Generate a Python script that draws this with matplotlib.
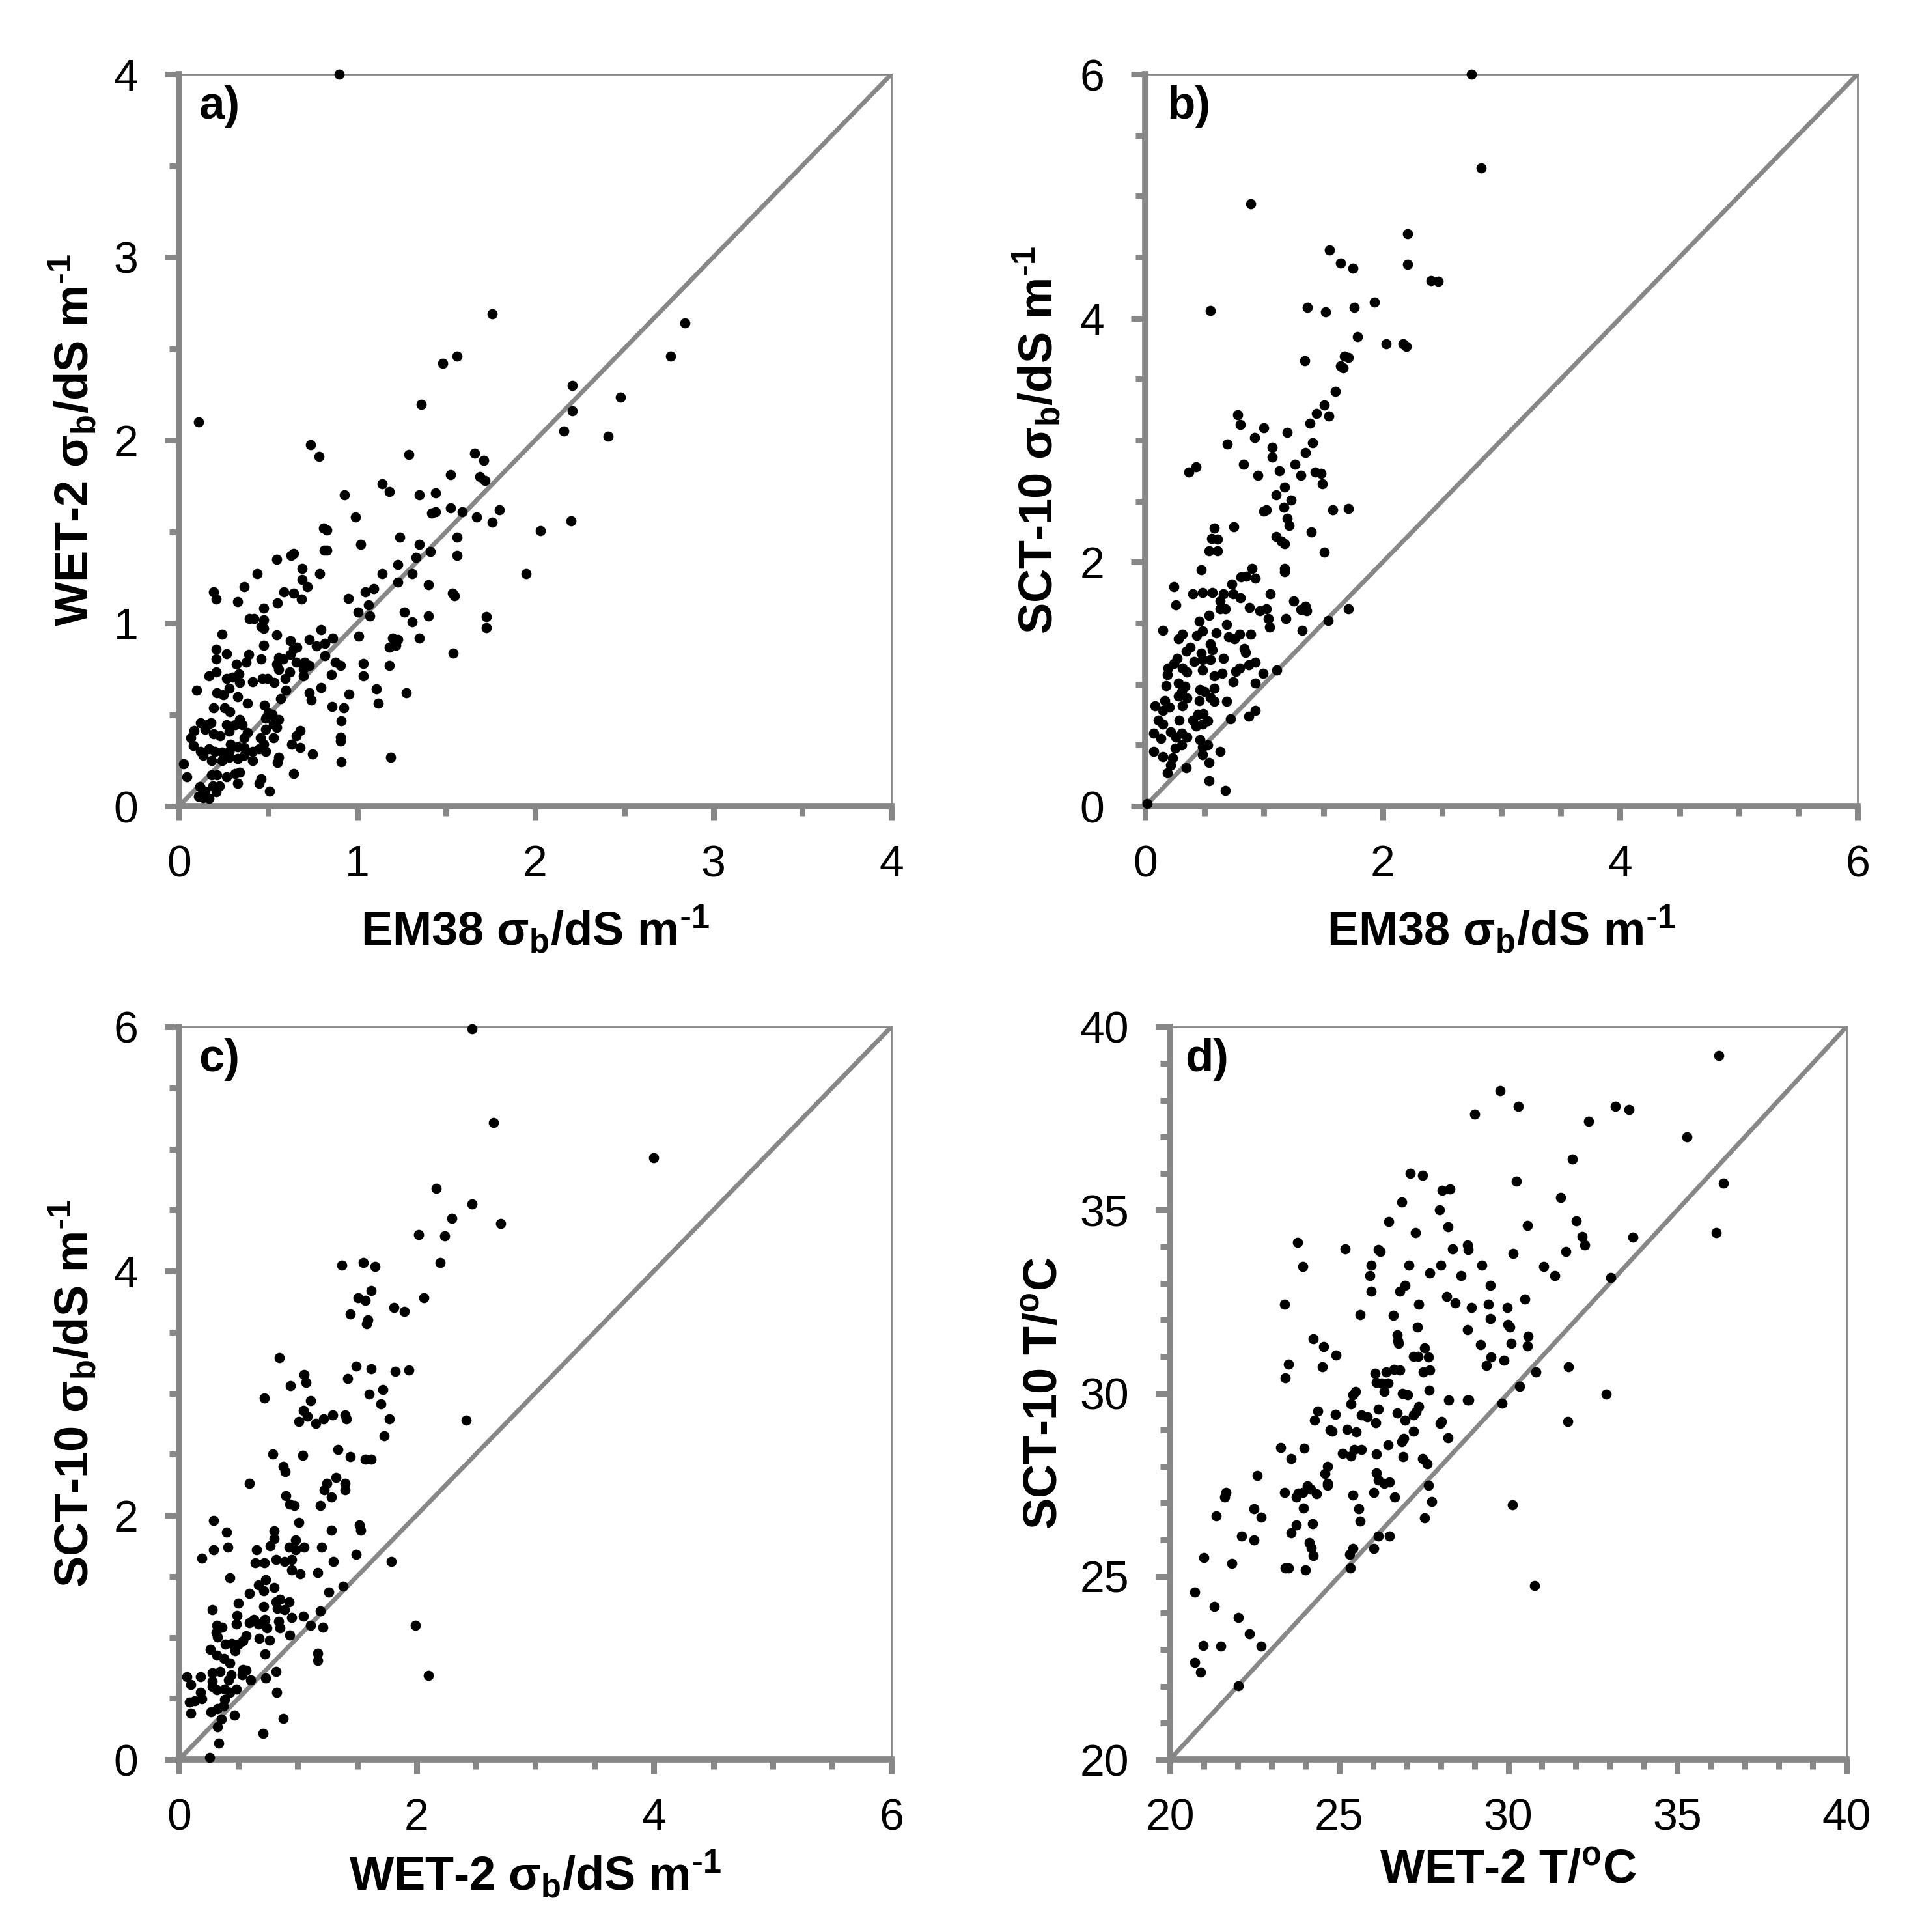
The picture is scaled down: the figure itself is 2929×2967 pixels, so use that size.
import matplotlib
matplotlib.use("Agg")
import matplotlib.pyplot as plt
from matplotlib.ticker import MultipleLocator
from matplotlib.mathtext import MathTextParser
import numpy as np

plt.rcParams['font.family'] = ['Liberation Sans', 'DejaVu Sans']
plt.rcParams['mathtext.default'] = 'regular'

# ---------------- data ----------------
# Panel a: EM38 (x) vs WET-2 (y), dS/m
a_pts = [
    (1.02,1.43),(1.24,1.47),(1.35,1.43),(1.41,1.39),(0.63,1.37),(0.645,1.38),(0.815,1.40),(0.83,1.40),
    (0.55,1.35),(0.69,1.30),(0.44,1.27),(0.79,1.27),(0.69,1.24),(0.72,1.20),(1.33,1.36),(1.23,1.32),
    (1.14,1.27),(1.31,1.27),(1.23,1.225),(1.40,1.21),(0.195,1.17),(0.21,1.13),(0.365,1.20),(0.33,1.117),
    (0.59,1.17),(0.645,1.165),(0.687,1.13),(0.553,1.11),(0.475,1.083),(0.95,1.136),(1.046,1.17),(1.095,1.19),
    (1.064,1.10),(1.004,1.06),(1.07,1.04),(0.395,1.024),(0.42,1.024),(0.475,1.018),(0.462,0.982),(0.475,0.97),
    (1.265,1.06),(1.31,1.006),(1.40,1.04),(0.243,0.94),(0.547,0.935),(0.797,0.964),(1.01,0.93),(1.35,0.917),
    (1.198,0.917),(1.229,0.91),(1.18,0.87),(1.216,0.88),(0.627,0.905),(0.663,0.87),(0.645,0.86),(0.73,0.91),
    (0.77,0.876),(0.82,0.89),(0.864,0.917),(0.475,0.88),(0.207,0.858),(0.207,0.805),(0.268,0.834),(0.39,0.828),
    (0.377,0.787),(0.462,0.805),(0.56,0.81),(0.547,0.775),(0.584,0.805),(0.56,0.746),(0.627,0.828),(0.657,0.787),
    (0.706,0.787),(0.73,0.77),(0.70,0.75),(0.82,0.822),(0.876,0.787),(0.906,0.77),(1.034,0.781),(1.034,0.71),
    (1.18,0.77),(0.322,0.775),(0.207,0.734),(0.17,0.71),(0.335,0.722),(0.30,0.704),(0.268,0.698),(0.34,0.675),
    (0.414,0.68),(0.468,0.698),(0.499,0.698),(0.535,0.675),(0.596,0.698),(0.62,0.734),(0.70,0.71),(0.857,0.718),
    (0.097,0.633),(0.213,0.62),(0.25,0.61),(0.28,0.645),(0.33,0.598),(0.383,0.562),(0.48,0.55),(0.60,0.633),
    (0.572,0.586),(0.73,0.62),(0.742,0.58),(0.797,0.648),(0.955,0.612),(1.107,0.639),(1.12,0.562),(1.277,0.62),
    (0.858,0.544),(0.925,0.538),(0.912,0.467),(0.906,0.379),(0.906,0.355),(0.912,0.243),(1.19,0.266),(0.195,0.538),
    (0.255,0.538),(0.286,0.515),(0.50,0.509),(0.523,0.503),(0.487,0.479),(0.56,0.473),(0.53,0.45),(0.487,0.42),
    (0.547,0.43),(0.34,0.473),(0.316,0.444),(0.353,0.444),(0.122,0.456),(0.164,0.45),(0.18,0.456),(0.085,0.414),
    (0.067,0.373),(0.079,0.331),(0.146,0.42),(0.195,0.396),(0.23,0.385),(0.28,0.408),(0.268,0.444),(0.383,0.403),
    (0.365,0.373),(0.456,0.373),(0.529,0.373),(0.68,0.414),(0.657,0.385),(0.633,0.337),(0.68,0.32),(0.748,0.284),
    (0.56,0.266),(0.553,0.237),(0.645,0.178),(0.29,0.337),(0.33,0.325),(0.365,0.32),(0.17,0.314),(0.2,0.30),
    (0.24,0.296),(0.28,0.30),(0.122,0.30),(0.134,0.277),(0.414,0.30),(0.45,0.314),(0.487,0.30),(0.475,0.337),
    (0.182,0.249),(0.243,0.249),(0.28,0.266),(0.33,0.26),(0.365,0.278),(0.414,0.249),(0.024,0.231),(0.043,0.16),
    (0.182,0.172),(0.213,0.172),(0.268,0.16),(0.316,0.178),(0.33,0.124),(0.34,0.184),(0.462,0.148),(0.45,0.124),
    (0.51,0.083),(0.116,0.107),(0.146,0.083),(0.19,0.112),(0.225,0.112),(0.207,0.077),(0.11,0.053),(0.134,0.047),
    (0.17,0.041),
    (0.90,4.0),(0.11,2.10),(1.76,2.69),(2.84,2.64),(2.76,2.46),(1.48,2.42),(1.56,2.46),(1.36,2.195),
    (2.21,2.30),(2.48,2.236),(2.21,2.16),(2.16,2.05),(2.41,2.02),(0.74,1.976),(0.785,1.91),(1.29,1.92),
    (1.66,1.93),(1.71,1.89),(1.525,1.81),(1.69,1.80),(1.72,1.78),(1.14,1.76),(1.18,1.72),(0.93,1.70),
    (1.35,1.70),(1.44,1.71),(0.99,1.58),(1.42,1.60),(1.44,1.61),(1.525,1.63),(1.59,1.61),(1.67,1.58),
    (1.80,1.62),(1.76,1.55),(2.03,1.505),(2.20,1.56),(1.95,1.27),(1.56,1.47),(1.56,1.37),(1.535,1.165),
    (1.545,1.15),(1.725,1.034),(1.725,0.976),(1.54,0.838),(0.81,1.52),(0.83,1.51),
]

# Panel b: EM38 (x) vs SCT-10 (y), dS/m
b_pts = [
    (2.75,6.0),(2.83,5.23),(0.89,4.94),(2.21,4.69),(1.55,4.56),(1.645,4.45),(1.75,4.41),(2.21,4.44),
    (2.41,4.31),(2.47,4.30),(0.547,4.06),(1.364,4.087),(1.52,4.05),(1.76,4.087),(1.93,4.13),(1.79,3.85),
    (2.03,3.79),(2.17,3.79),(2.20,3.77),(1.344,3.65),(1.68,3.69),(1.71,3.68),(1.645,3.61),(1.67,3.59),
    (1.60,3.40),(1.51,3.29),(1.44,3.22),(1.545,3.20),(1.39,3.14),(0.78,3.21),(0.80,3.13),(1.00,3.10),
    (0.92,3.02),(1.196,3.065),(0.69,2.97),(1.41,2.98),(1.07,2.94),(1.07,2.86),(1.35,2.90),(0.83,2.80),
    (1.26,2.80),(0.37,2.74),(0.43,2.78),(0.95,2.71),(1.13,2.75),(1.31,2.71),(1.43,2.74),(1.48,2.73),
    (1.49,2.64),(1.175,2.615),(1.10,2.55),(1.23,2.51),(1.17,2.45),(1.00,2.42),(1.02,2.43),(1.58,2.43),
    (1.71,2.44),(1.196,2.36),(1.21,2.30),(0.746,2.29),(0.58,2.28),(0.61,2.19),(0.557,2.195),(1.40,2.25),
    (1.10,2.21),(1.145,2.175),(1.175,2.15),(0.54,2.09),(0.61,2.09),(1.51,2.08),(1.175,1.95),(1.175,1.92),
    (1.25,1.68),(1.35,1.64),(1.36,1.60),(1.31,1.61),(1.71,1.62),(1.185,1.54),(1.54,1.52),(1.32,1.44),
    (0.47,1.94),(0.90,1.95),(0.926,1.87),(0.806,1.88),(0.85,1.885),(0.24,1.80),(0.73,1.82),(1.055,1.74),
    (0.40,1.74),(0.48,1.75),(0.565,1.75),(0.657,1.74),(0.74,1.74),(0.80,1.71),(0.26,1.65),(0.63,1.68),
    (0.63,1.62),(0.676,1.616),(0.88,1.63),(0.963,1.60),(1.02,1.616),(1.037,1.54),(1.046,1.47),(0.537,1.563),
    (0.454,1.515),(0.685,1.49),(0.148,1.44),(0.315,1.41),(0.28,1.37),(0.435,1.40),(0.48,1.435),(0.60,1.42),
    (0.70,1.39),(0.75,1.37),(0.796,1.41),(0.89,1.41),(0.546,1.33),(0.565,1.28),(0.38,1.30),(0.343,1.27),
    (0.833,1.29),(0.843,1.26),(0.472,1.257),(0.27,1.21),(0.24,1.17),(0.41,1.187),(0.48,1.20),(0.546,1.20),
    (0.657,1.213),(0.315,1.13),(0.35,1.10),(0.194,1.13),(0.185,1.08),(0.48,1.115),(0.583,1.07),(0.648,1.09),
    (0.76,1.107),(0.796,1.13),(0.87,1.16),(0.926,1.18),(0.99,1.09),(1.11,1.115),(0.74,1.02),(0.926,1.01),
    (0.176,0.99),(0.278,1.01),(0.333,0.982),(0.305,0.938),(0.278,0.902),(0.463,0.955),(0.5,0.938),(0.583,0.964),
    (0.35,0.885),(0.454,0.867),(0.546,0.893),(0.583,0.858),(0.685,0.858),(0.083,0.822),(0.167,0.867),(0.204,0.813),
    (0.148,0.787),(0.315,0.822),(0.111,0.707),(0.148,0.671),(0.287,0.707),(0.398,0.707),(0.444,0.751),(0.49,0.76),
    (0.528,0.698),(0.48,0.671),(0.426,0.654),(0.72,0.716),(0.87,0.734),(0.926,0.787),(0.074,0.60),(0.13,0.556),
    (0.213,0.609),(0.26,0.565),(0.305,0.60),(0.35,0.565),(0.25,0.476),(0.305,0.503),(0.463,0.547),(0.48,0.485),
    (0.63,0.45),(0.074,0.45),(0.148,0.405),(0.23,0.396),(0.48,0.423),(0.537,0.36),(0.213,0.334),(0.185,0.272),
    (0.343,0.316),(0.537,0.21),(0.676,0.13),(0.018,0.023),(0.528,0.503),
]

# Panel c: WET-2 (x) vs SCT-10 (y), dS/m
c_pts = [
    (2.47,5.985),(2.65,5.215),(4.00,4.93),(2.165,4.68),(2.47,4.55),(2.30,4.43),(2.71,4.39),(2.02,4.30),
    (2.24,4.29),(2.20,4.07),(1.37,4.05),(1.55,4.07),(1.65,4.04),(1.62,3.84),(1.51,3.78),(1.57,3.76),
    (2.06,3.78),(1.81,3.70),(1.90,3.67),(1.44,3.65),(1.59,3.60),(1.58,3.57),(0.845,3.29),(1.49,3.22),
    (1.62,3.20),(1.82,3.18),(1.935,3.19),(1.42,3.12),(1.055,3.15),(1.07,3.09),(0.94,3.06),(1.11,2.94),
    (0.72,2.96),(1.715,3.03),(1.60,2.99),(1.70,2.91),(1.05,2.86),(1.08,2.81),(1.01,2.77),(1.15,2.75),
    (1.22,2.79),(1.295,2.82),(1.40,2.82),(1.41,2.79),(1.77,2.79),(2.42,2.78),(1.73,2.65),(1.34,2.54),
    (0.79,2.50),(1.04,2.49),(1.44,2.48),(1.57,2.46),(1.62,2.46),(0.875,2.40),(0.895,2.36),(0.59,2.26),
    (1.32,2.31),(1.245,2.26),(1.225,2.21),(1.40,2.26),(1.40,2.21),(1.285,2.15),(1.285,1.88),(1.52,1.92),
    (1.53,1.88),(1.49,1.68),(1.79,1.62),(1.30,1.62),(1.38,1.42),(1.26,1.37),(1.99,1.10),(2.10,0.69),
    (0.90,2.16),(0.935,2.09),(0.97,2.08),(1.19,2.08),(0.29,1.96),(0.40,1.86),(1.01,1.94),(0.80,1.87),
    (0.80,1.81),(0.77,1.75),(0.98,1.80),(0.29,1.72),(0.41,1.74),(0.19,1.65),(0.65,1.72),(0.926,1.74),
    (0.98,1.72),(1.055,1.74),(1.20,1.74),(0.815,1.635),(0.89,1.62),(0.95,1.64),(0.64,1.61),(0.72,1.61),
    (0.95,1.55),(1.02,1.52),(1.166,1.53),(0.43,1.49),(0.73,1.47),(0.67,1.43),(0.715,1.38),(0.80,1.41),
    (0.594,1.36),(0.50,1.28),(0.28,1.227),(0.715,1.253),(0.815,1.29),(0.85,1.31),(0.83,1.235),(0.89,1.227),
    (0.926,1.29),(0.95,1.164),(1.046,1.173),(1.19,1.218),(0.49,1.18),(0.48,1.11),(0.317,1.10),(0.36,1.084),
    (0.31,1.04),(0.326,1.004),(0.594,1.12),(0.63,1.147),(0.668,1.11),(0.723,1.147),(0.74,1.076),(0.84,1.13),
    (0.85,1.076),(1.11,1.097),(1.21,1.084),(0.935,1.02),(0.677,0.99),(0.76,0.978),(0.566,1.013),(0.54,0.969),
    (0.39,0.942),(0.446,0.951),(0.50,0.942),(0.474,0.889),(0.262,0.90),(0.317,0.853),(0.38,0.827),(0.428,0.79),
    (0.723,0.862),(1.166,0.871),(1.166,0.809),(0.068,0.676),(0.096,0.613),(0.18,0.676),(0.28,0.71),(0.345,0.72),
    (0.28,0.64),(0.437,0.693),(0.419,0.649),(0.54,0.738),(0.566,0.729),(0.53,0.693),(0.603,0.649),(0.73,0.667),
    (0.815,0.72),(0.28,0.596),(0.317,0.569),(0.382,0.578),(0.428,0.551),(0.483,0.578),(0.18,0.551),(0.19,0.498),
    (0.133,0.48),(0.087,0.471),(0.382,0.489),(0.373,0.436),(0.326,0.418),(0.096,0.379),(0.271,0.391),(0.465,0.364),
    (0.825,0.551),(0.88,0.338),(0.354,0.329),(0.326,0.267),(0.705,0.213),(0.336,0.133),(0.258,0.018),
]

# Panel d: WET-2 T (x) vs SCT-10 T (y), degC
d_pts = [
    (36.23,39.22),(29.76,38.26),(29.0,37.62),(30.30,37.84),(33.17,37.84),(33.58,37.74),(32.38,37.43),(35.29,37.0),
    (31.90,36.39),(27.10,36.0),(27.46,35.95),(30.24,35.78),(36.37,35.73),(28.05,35.53),(28.28,35.58),(26.85,35.21),
    (31.55,35.34),(27.96,35.0),(26.47,34.68),(32.02,34.70),(28.21,34.55),(30.57,34.57),(27.26,34.38),(36.15,34.38),
    (32.18,34.27),(33.69,34.25),(23.77,34.11),(28.79,34.04),(28.82,33.92),(32.27,34.04),(25.18,33.94),(26.16,33.92),
    (26.22,33.87),(28.36,33.94),(30.15,33.82),(31.70,33.86),(23.92,33.45),(25.95,33.49),(27.06,33.50),(28.01,33.50),
    (29.22,33.50),(31.05,33.45),(27.69,33.28),(25.91,33.2),(28.61,33.2),(31.37,33.2),(33.03,33.15),(26.94,32.94),
    (26.79,32.78),(25.95,32.78),(29.47,32.94),(28.19,32.64),(28.43,32.47),(23.38,32.42),(30.49,32.56),(27.35,32.42),
    (28.91,32.34),(29.42,32.42),(29.97,32.34),(25.62,32.15),(26.61,32.12),(29.47,32.03),(29.99,31.88),(30.04,31.80),
    (27.31,31.80),(28.79,31.73),(26.72,31.59),(26.74,31.43),(26.76,31.36),(30.58,31.56),(30.56,31.29),(24.24,31.48),
    (24.55,31.27),(30.08,31.36),(29.18,31.33),(27.53,31.24),(24.91,31.04),(27.19,31.0),(27.34,31.0),(27.64,30.99),
    (29.49,30.99),(23.50,30.80),(24.51,30.72),(29.87,30.89),(29.36,30.75),(27.69,30.63),(27.49,30.58),(26.63,30.65),
    (26.79,30.63),(26.40,30.57),(26.07,30.55),(30.82,30.58),(31.79,30.72),(23.40,30.41),(26.11,30.30),(26.25,30.28),
    (26.45,30.28),(25.48,30.04),(25.41,29.96),(26.34,30.04),(26.88,30.0),(27.03,29.96),(27.67,30.08),(30.33,30.19),
    (32.90,29.97),(25.35,29.70),(28.23,29.81),(28.79,29.81),(28.84,29.81),(29.81,29.72),(26.16,29.57),(24.37,29.52),
    (24.27,29.27),(24.89,29.43),(25.66,29.40),(25.84,29.35),(26.72,29.45),(27.36,29.64),(27.28,29.50),(27.19,29.40),
    (26.95,29.27),(26.09,29.20),(28.03,29.23),(27.99,29.18),(31.77,29.23),(24.73,29.0),(24.80,28.96),(25.23,29.01),
    (25.50,28.95),(27.19,28.96),(26.92,28.76),(26.85,28.68),(26.45,28.59),(28.21,28.79),(23.27,28.51),(23.97,28.49),
    (25.44,28.46),(25.66,28.46),(25.10,28.35),(25.35,28.29),(26.11,28.34),(26.90,28.27),(23.58,28.22),(27.46,28.22),
    (27.60,28.08),(24.65,28.0),(24.58,27.80),(26.11,27.83),(24.65,27.54),(24.65,27.49),(26.16,27.63),(26.34,27.54),
    (26.49,27.58),(27.64,27.48),(22.57,27.75),(24.06,27.46),(24.15,27.37),(23.92,27.29),(23.38,27.29),(23.79,27.27),
    (23.74,27.17),(24.33,27.26),(21.65,27.29),(21.62,27.17),(25.41,27.21),(26.02,27.29),(26.65,27.17),(27.74,27.04),
    (30.12,26.95),(21.37,26.65),(22.48,26.84),(22.70,26.62),(23.94,26.87),(25.59,26.84),(27.53,26.60),(23.74,26.40),
    (24.22,26.43),(25.62,26.50),(23.58,26.19),(22.12,26.09),(22.48,25.99),(24.11,25.92),(24.18,25.77),(26.16,26.09),
    (26.49,26.09),(26.02,25.76),(25.41,25.76),(25.32,25.60),(24.24,25.57),(21.01,25.52),(21.83,25.35),(23.41,25.23),
    (23.50,25.23),(24.01,25.18),(25.34,25.23),(30.78,24.74),(20.74,24.57),(21.31,24.17),(22.03,23.87),(22.34,23.44),
    (20.99,23.12),(21.51,23.09),(22.70,23.09),(20.74,22.65),(20.90,22.38),(22.03,22.01),
]

# superscript "-1" written with a hyphen, as in the original
try:
    MathTextParser('path').parse(r'$^{\text{-}1}$')
    SUP = r'$^{\text{-}1}$'
except Exception:
    SUP = r'$^{-1}$'

panel_letters = ['a)', 'b)', 'c)', 'd)']
x_labels = ['EM38 σ$_b$/dS m' + SUP, 'EM38 σ$_b$/dS m' + SUP,
            'WET-2 σ$_b$/dS m' + SUP, 'WET-2 T/$^o$C']
y_labels = ['WET-2 σ$_b$/dS m' + SUP, 'SCT-10 σ$_b$/dS m' + SUP,
            'SCT-10 σ$_b$/dS m' + SUP, 'SCT-10 T/$^o$C']
limits = [(0, 4), (0, 6), (0, 6), (20, 40)]
major_steps = [1, 2, 2, 5]
minor_steps = [0.5, 0.5, 0.5, 1]

# ---------------- figure ----------------
W, H = 2929, 2967
fig = plt.figure(figsize=(W / 100, H / 100), dpi=100)

def rect(l, r, t, b):
    return [l / W, 1 - b / H, (r - l) / W, (b - t) / H]

rects = [rect(275, 1369, 114, 1238), rect(1759, 2853, 114, 1238),
         rect(275, 1369, 1577, 2702), rect(1797, 2836, 1577, 2702)]
ylabel_x = [-0.113, -0.116, -0.113, -0.152]
xlabel_y = [-0.133, -0.133, -0.122, -0.122]
letter_x = [0.028, 0.030, 0.028, 0.022]

grey = '#878787'
datasets = [a_pts, b_pts, c_pts, d_pts]

for i in range(4):
    ax = fig.add_axes(rects[i])
    pts = np.array(datasets[i])
    lo, hi = limits[i]
    ax.plot([lo, hi], [lo, hi], color=grey, lw=5, zorder=2, solid_capstyle='butt')
    ax.scatter(pts[:, 0], pts[:, 1], s=128, c='black', linewidths=0, zorder=3, clip_on=False)
    ax.set_xlim(lo, hi)
    ax.set_ylim(lo, hi)
    ax.xaxis.set_major_locator(MultipleLocator(major_steps[i]))
    ax.yaxis.set_major_locator(MultipleLocator(major_steps[i]))
    ax.xaxis.set_minor_locator(MultipleLocator(minor_steps[i]))
    ax.yaxis.set_minor_locator(MultipleLocator(minor_steps[i]))
    for s in ['left', 'bottom']:
        ax.spines[s].set_linewidth(7)
        ax.spines[s].set_color(grey)
        ax.spines[s].set_capstyle('projecting')
    for s in ['top', 'right']:
        ax.spines[s].set_linewidth(2)
        ax.spines[s].set_color(grey)
    ax.tick_params(which='major', direction='out', length=16, width=6.5, color=grey,
                   labelsize=49, labelcolor='black')
    ax.tick_params(which='minor', direction='out', length=11, width=6.5, color=grey)
    ax.tick_params(axis='x', which='major', pad=26)
    ax.tick_params(axis='y', which='major', pad=29)
    ax.set_xlabel(x_labels[i], fontsize=52, fontweight='bold')
    ax.set_ylabel(y_labels[i], fontsize=52, fontweight='bold')
    ax.yaxis.set_label_coords(ylabel_x[i], 0.5)
    ax.xaxis.set_label_coords(0.5, xlabel_y[i])
    ax.text(letter_x[i], 0.985, panel_letters[i], transform=ax.transAxes,
            fontsize=51, fontweight='bold', ha='left', va='top')

fig.savefig('out.png', dpi=100)
